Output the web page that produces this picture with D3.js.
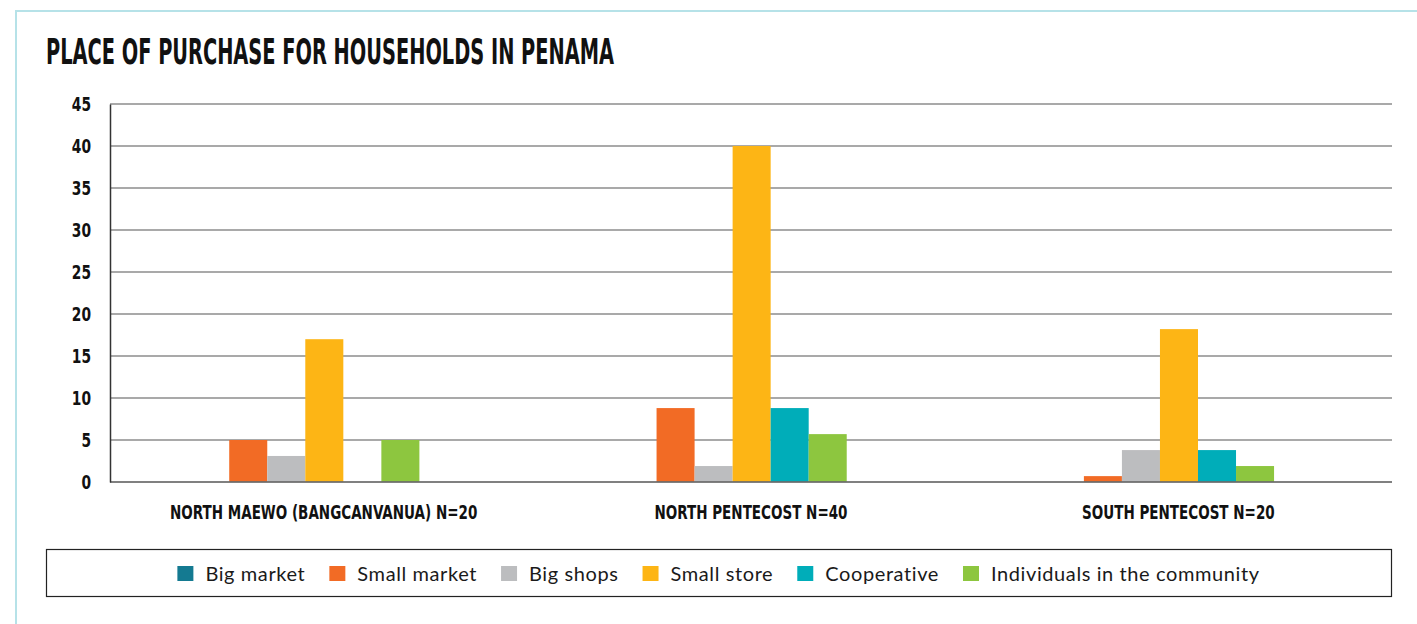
<!DOCTYPE html>
<html><head><meta charset="utf-8">
<script src="https://cdn.jsdelivr.net/npm/d3@7/dist/d3.min.js"></script>
<style>
html,body{margin:0;padding:0;background:#fff;}
svg{display:block;}
</style></head>
<body>
<svg id="chart" width="1417" height="624"></svg>
<script>
const title = "PLACE OF PURCHASE FOR HOUSEHOLDS IN PENAMA";
const categories = ["NORTH MAEWO (BANGCANVANUA) N=20", "NORTH PENTECOST N=40", "SOUTH PENTECOST N=20"];
const seriesNames = ["Big market", "Small market", "Big shops", "Small store", "Cooperative", "Individuals in the community"];
const seriesColors = ["#147a91", "#f26b25", "#bcbdbf", "#fdb515", "#00adb9", "#8dc63f"];
const bigMarket   = [0, 0, 0];
const smallMarket = [5, 8.8, 0.7];
const bigShops    = [3.1, 1.9, 3.8];
const smallStore  = [17, 40, 18.2];
const cooperative = [0, 8.8, 3.8];
const individuals = [5, 5.7, 1.9];
const yTicks = [0, 5, 10, 15, 20, 25, 30, 35, 40, 45];

const seriesValues = [bigMarket, smallMarket, bigShops, smallStore, cooperative, individuals];

const svg = d3.select("#chart");
const W = 1417, H = 624;
const condensed = "'DejaVu Sans Condensed', 'DejaVu Sans', sans-serif";

// frame
svg.append("rect").attr("x", 16).attr("y", 11).attr("width", W + 20).attr("height", H + 20)
  .attr("fill", "none").attr("stroke", "#b6e2e8").attr("stroke-width", 2);

// title
svg.append("text").attr("x", 46).attr("y", 64).text(title)
  .attr("font-family", condensed)
  .attr("font-weight", "bold").attr("font-size", 35).attr("fill", "#111")
  .attr("textLength", 568).attr("lengthAdjust", "spacingAndGlyphs");

const m = {left: 110, right: 1392, top: 104, bottom: 482};
const x0 = d3.scaleBand().domain(categories).range([m.left, m.right]).padding(0);
const bw = x0.bandwidth();
const x1 = d3.scaleBand().domain(seriesNames).range([bw * 0.19, bw * 0.19 + bw * 0.534]).padding(0);
const y = d3.scaleLinear().domain([0, 45]).range([m.bottom, m.top]);

// gridlines
svg.append("g").selectAll("line").data(yTicks.filter(d => d > 0)).join("line")
  .attr("x1", m.left).attr("x2", m.right)
  .attr("y1", d => y(d)).attr("y2", d => y(d))
  .attr("stroke", "#8c8c8c").attr("stroke-width", 1.3);

// bars
const g = svg.append("g");
categories.forEach((c, ci) => {
  g.append("g").attr("transform", `translate(${x0(c)},0)`)
    .selectAll("rect").data(seriesNames.map((s, si) => ({s, v: seriesValues[si][ci], col: seriesColors[si]})))
    .join("rect")
    .attr("x", d => x1(d.s)).attr("width", x1.bandwidth())
    .attr("y", d => y(d.v)).attr("height", d => y(0) - y(d.v))
    .attr("fill", d => d.col);
});

// baseline
svg.append("line").attr("x1", m.left).attr("x2", m.right).attr("y1", y(0)).attr("y2", y(0))
  .attr("stroke", "#6a6a6a").attr("stroke-width", 2.2).attr("stroke-opacity", 0.85);

// y axis
const yAxis = d3.axisLeft(y).tickValues(yTicks).tickSize(0).tickPadding(19);
const ya = svg.append("g").attr("transform", `translate(${m.left},0)`).call(yAxis);
ya.select(".domain").attr("stroke", "#333").attr("stroke-width", 1.5);
ya.selectAll("text").attr("font-family", condensed)
  .attr("font-weight", "bold").attr("font-size", 19).attr("fill", "#111")
  .attr("textLength", d => String(d).length * 9.6).attr("lengthAdjust", "spacingAndGlyphs");

// x axis labels
const xAxis = d3.axisBottom(x0).tickSize(0).tickPadding(24);
const xa = svg.append("g").attr("transform", `translate(0,${y(0)})`).call(xAxis);
xa.select(".domain").remove();
xa.selectAll("text").attr("font-family", condensed)
  .attr("font-weight", "bold").attr("font-size", 19).attr("fill", "#111")
  .each(function(){
    const t = d3.select(this);
    const L = this.getComputedTextLength();
    t.attr("textLength", L * 0.79).attr("lengthAdjust", "spacingAndGlyphs");
  });

// legend
svg.append("rect").attr("x", 46.5).attr("y", 549.5).attr("width", 1345).attr("height", 47)
  .attr("fill", "#fff").attr("stroke", "#222").attr("stroke-width", 1.2);
const leg = svg.append("g");
const items = leg.selectAll("g").data(seriesNames).join("g");
items.append("rect").attr("width", 16).attr("height", 15).attr("y", -8)
  .attr("fill", (d, i) => seriesColors[i]);
items.append("text").attr("x", 28).attr("y", 0).attr("dy", "0.35em").text(d => d)
  .attr("font-family", "Lato, 'Noto Sans', sans-serif").attr("font-size", 20)
  .attr("letter-spacing", 0.6).attr("fill", "#1a1a1a");
let xs = 0; const pos = [];
items.each(function(d, i){
  const tw = d3.select(this).select("text").node().getComputedTextLength();
  pos.push(xs); xs += 28 + tw + 24;
});
const total = xs - 24;
const start = 177 + ((1260 - 177) - total) / 2;
items.attr("transform", (d, i) => `translate(${start + pos[i]},574)`);
</script>
</body></html>
